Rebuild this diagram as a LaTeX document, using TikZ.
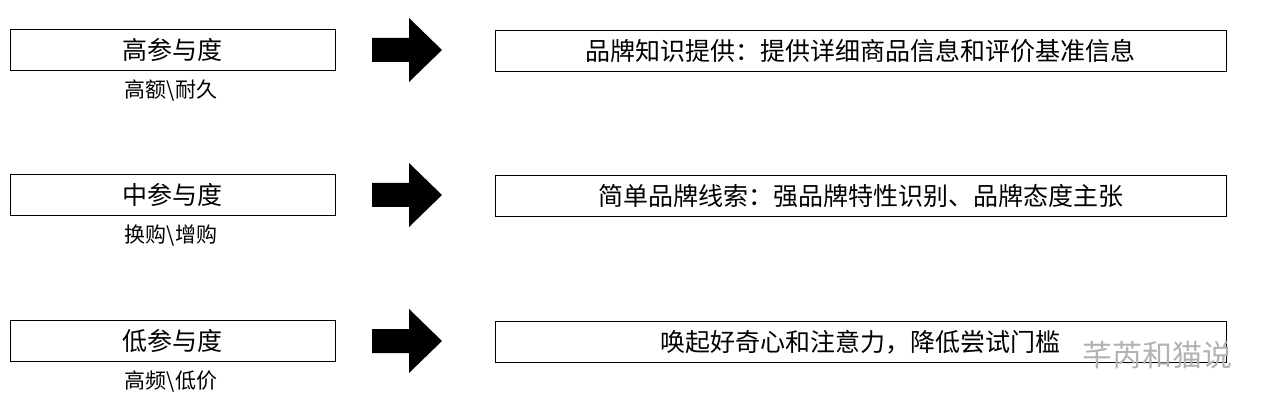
\documentclass[tikz,border=0pt]{standalone}
\usepackage{fontspec}
\newfontfamily\cjk{Noto Sans CJK SC}
\begin{document}
\begin{tikzpicture}[x=1pt,y=-1pt,
  lbox/.style={draw,line width=1pt,minimum width=325pt,minimum height=41pt,inner sep=0pt,font=\cjk\fontsize{25}{28}\selectfont},
  rbox/.style={draw,line width=1pt,minimum width=731pt,minimum height=41pt,inner sep=0pt,font=\cjk\fontsize{25}{28}\selectfont},
  sub/.style={font=\cjk\fontsize{21}{24}\selectfont,inner sep=0pt},
  blk/.style={fill=black}]
\useasboundingbox (0,0) rectangle (1280,414);
\foreach \y/\a/\b/\c [count=\i] in {50/高参与度/高额\textbackslash 耐久/品牌知识提供：提供详细商品信息和评价基准信息,
  195/中参与度/换购\textbackslash 增购/简单品牌线索：强品牌特性识别、品牌态度主张,
  341/低参与度/高频\textbackslash 低价/唤起好奇心和注意力，降低尝试门槛}{
  \node[lbox] (l\i) at (172.5,\y) {\a};
  \node[sub] (s\i) at (171,\y+41) {\b};
  \node[rbox] (r\i) at (860.5,\y+1) {\c};
  \fill[blk] (372,\y-12) -- (409,\y-12) -- (409,\y-32) -- (442,\y) -- (409,\y+32) -- (409,\y+12) -- (372,\y+12) -- cycle;
}
\node[font=\cjk\fontsize{30}{32}\selectfont,text=gray!60,inner sep=0pt] (wm) at (1157,355) {芊芮和猫说};
\end{tikzpicture}
\end{document}
